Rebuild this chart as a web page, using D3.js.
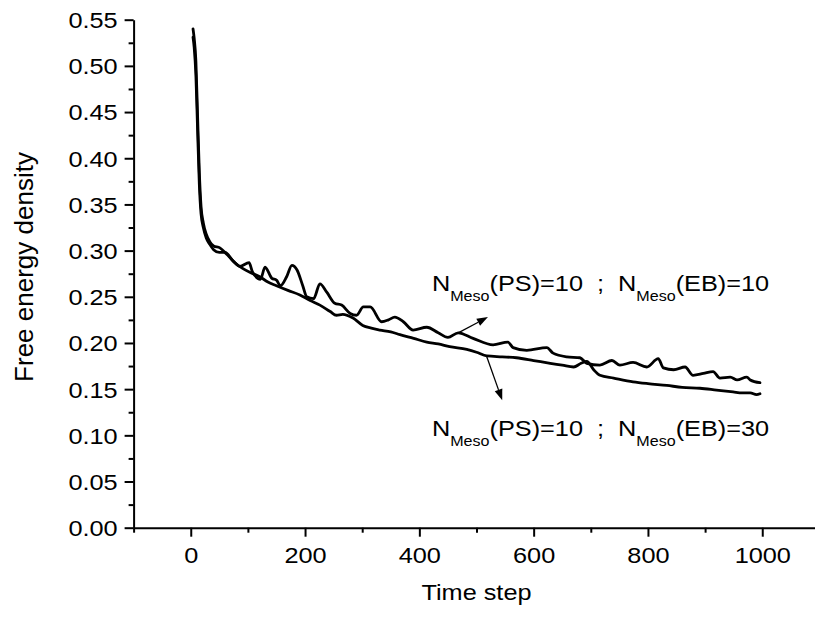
<!DOCTYPE html>
<html>
<head>
<meta charset="utf-8">
<script src="https://cdn.jsdelivr.net/npm/d3@7"></script>
<style>
  html, body { margin: 0; padding: 0; background: #fff; }
  svg { display: block; font-family: "Liberation Sans", Arial, sans-serif; }
</style>
</head>
<body>
<svg id="chart" width="815" height="620"></svg>
<script>
// ---- data ----
const tA = [4, 6, 9, 12, 15, 18, 22, 27, 33, 40, 51, 63, 74, 86, 102, 108, 122, 130, 142, 150, 157, 168, 177, 186, 196, 203, 215, 226, 238, 252, 264, 279, 290, 302, 314, 334, 346, 357, 372, 389, 413, 433, 450, 468, 494, 529, 555, 564, 588, 623, 634, 658, 681, 693, 716, 737, 751, 774, 798, 818, 827, 845, 865, 879, 897, 914, 926, 944, 956, 973, 979, 996];
const vA = [0.540, 0.530, 0.505, 0.445, 0.385, 0.348, 0.330, 0.318, 0.310, 0.305, 0.303, 0.296, 0.289, 0.283, 0.287, 0.277, 0.269, 0.282, 0.270, 0.268, 0.262, 0.272, 0.284, 0.279, 0.262, 0.250, 0.248, 0.264, 0.255, 0.243, 0.241, 0.232, 0.230, 0.239, 0.239, 0.223, 0.225, 0.228, 0.223, 0.214, 0.217, 0.211, 0.206, 0.211, 0.205, 0.198, 0.201, 0.195, 0.192, 0.195, 0.189, 0.185, 0.184, 0.178, 0.176, 0.181, 0.176, 0.179, 0.174, 0.183, 0.173, 0.171, 0.174, 0.165, 0.167, 0.169, 0.162, 0.163, 0.160, 0.163, 0.160, 0.157];
const tB = [4, 6, 9, 12, 15, 18, 22, 27, 33, 40, 50, 60, 75, 90, 105, 120, 135, 150, 170, 191, 209, 226, 244, 255, 266, 284, 301, 316, 331, 350, 366, 390, 413, 433, 453, 483, 500, 518, 545, 570, 600, 629, 650, 670, 683, 693, 705, 716, 740, 774, 800, 833, 860, 891, 920, 949, 965, 979, 990, 996];
const vB = [0.531, 0.520, 0.490, 0.430, 0.372, 0.340, 0.325, 0.314, 0.307, 0.301, 0.298, 0.298, 0.288, 0.281, 0.276, 0.272, 0.266, 0.262, 0.257, 0.252, 0.246, 0.241, 0.234, 0.230, 0.231, 0.227, 0.219, 0.216, 0.214, 0.212, 0.209, 0.205, 0.201, 0.199, 0.196, 0.193, 0.190, 0.186, 0.185, 0.184, 0.181, 0.178, 0.176, 0.174, 0.178, 0.180, 0.171, 0.165, 0.162, 0.158, 0.156, 0.154, 0.152, 0.151, 0.149, 0.147, 0.146, 0.146, 0.144, 0.145];

const xMajorTicks = [0, 200, 400, 600, 800, 1000];
const xMinorTicks = [-100, 100, 300, 500, 700, 900, 1100];
const yMajorTicks = [0, 0.05, 0.10, 0.15, 0.20, 0.25, 0.30, 0.35, 0.40, 0.45, 0.50, 0.55];
const yMinorTicks = [0.025, 0.075, 0.125, 0.175, 0.225, 0.275, 0.325, 0.375, 0.425, 0.475, 0.525];

const xTitle = "Time step";
const yTitle = "Free energy density";
const labelA = { t: 422, v: 0.256, ps: "10", eb: "10" };
const labelB = { t: 422, v: 0.099, ps: "10", eb: "30" };
const arrowA = { from: [468, 0.211], to: [520, 0.228] };
const arrowB = { from: [518, 0.185], to: [545, 0.138] };

// ---- layout ----
const svg = d3.select("#chart");
const x = d3.scaleLinear().domain([-100, 1100]).range([133.6, 819.4]);
const y = d3.scaleLinear().domain([0, 0.55]).range([527.7, 19.7]);
const SX = 1.15;
const FS = 22;

// y axis
const gy = svg.append("g").attr("transform", `translate(${x(-100)},0)`);
gy.call(d3.axisLeft(y).tickValues(yMajorTicks).tickFormat(d3.format(".2f")).tickSize(9).tickSizeOuter(0));
gy.append("g").call(d3.axisLeft(y).tickValues(yMinorTicks).tickFormat("").tickSize(5).tickSizeOuter(0))
  .select(".domain").remove();
gy.selectAll("text").attr("x", -16 / SX).attr("dy", "0.36em")
  .attr("transform", `scale(${SX},1)`)
  .style("font-size", FS + "px").style("font-family", "Liberation Sans, Arial, sans-serif").attr("fill", "#000");

// x axis
const gx = svg.append("g").attr("transform", `translate(0,${y(0)})`);
gx.call(d3.axisBottom(x).tickValues(xMajorTicks).tickFormat(d3.format("d")).tickSize(9).tickSizeOuter(0));
gx.append("g").call(d3.axisBottom(x).tickValues(xMinorTicks).tickFormat("").tickSize(5).tickSizeOuter(0))
  .select(".domain").remove();
gx.selectAll("text").attr("x", 0).attr("y", 35.5).attr("dy", 0)
  .attr("transform", `scale(${SX},1)`)
  .style("font-size", FS + "px").style("font-family", "Liberation Sans, Arial, sans-serif").attr("fill", "#000");

svg.selectAll(".domain, .tick line").attr("stroke", "#000").attr("stroke-width", 2);

// titles
svg.append("text").attr("transform", `translate(${x(500)},600) scale(${SX},1)`)
  .attr("text-anchor", "middle").style("font-size", FS + "px").text(xTitle);
svg.append("text").attr("transform", `translate(33,267) rotate(-90)`)
  .attr("text-anchor", "middle").style("font-size", "26px").text(yTitle);

// lines
const line = d3.line().x(d => x(d[0])).y(d => y(d[1])).curve(d3.curveMonotoneX);
const dataA = tA.map((t, i) => [t, vA[i]]);
const dataB = tB.map((t, i) => [t, vB[i]]);
[dataB, dataA].forEach(d => {
  svg.append("path").datum(d).attr("d", line)
    .attr("fill", "none").attr("stroke", "#000").attr("stroke-width", 2.8)
    .attr("stroke-linejoin", "round").attr("stroke-linecap", "round");
});

// arrows
function arrow(a) {
  const x1 = x(a.from[0]), y1 = y(a.from[1]), x2 = x(a.to[0]), y2 = y(a.to[1]);
  const ang = Math.atan2(y2 - y1, x2 - x1);
  const L = 11, W = 4;
  const bx = x2 - L * Math.cos(ang), by = y2 - L * Math.sin(ang);
  svg.append("line").attr("x1", x1).attr("y1", y1).attr("x2", bx).attr("y2", by)
    .attr("stroke", "#000").attr("stroke-width", 1.3);
  const p = [[x2, y2],
    [bx + W * Math.sin(ang), by - W * Math.cos(ang)],
    [bx - W * Math.sin(ang), by + W * Math.cos(ang)]];
  svg.append("path").attr("d", "M" + p.map(q => q.join(",")).join("L") + "Z").attr("fill", "#000");
}
arrow(arrowA);
arrow(arrowB);

// annotations
function label(l) {
  const g = svg.append("g").attr("transform", `translate(${x(l.t)},${y(l.v)}) scale(${SX},1)`);
  const t = g.append("text").style("font-size", FS + "px").attr("xml:space", "preserve").style("white-space", "pre");
  t.append("tspan").text("N");
  t.append("tspan").attr("dy", 10).style("font-size", "14px").text("Meso");
  t.append("tspan").attr("dy", -10).text("(PS)=" + l.ps + "\u00a0\u00a0;\u00a0\u00a0N");
  t.append("tspan").attr("dy", 10).style("font-size", "14px").text("Meso");
  t.append("tspan").attr("dy", -10).text("(EB)=" + l.eb);
}
label(labelA);
label(labelB);
</script>
</body>
</html>
